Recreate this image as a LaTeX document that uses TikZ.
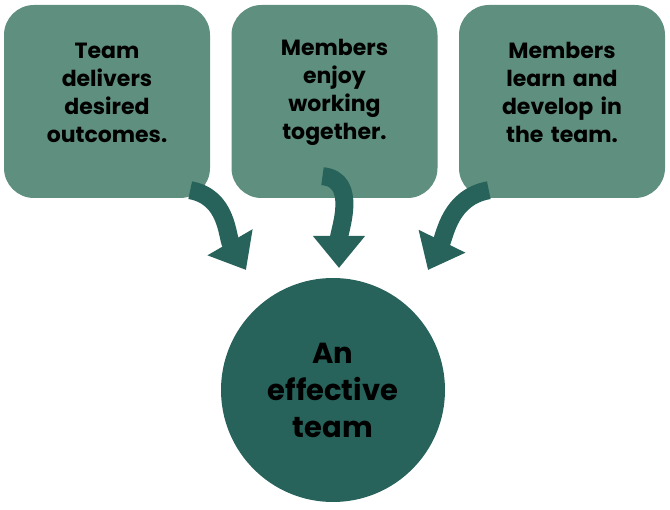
\documentclass[tikz,border=0pt]{standalone}
\usepackage{fontspec}
\setmainfont{Poppins}
\usepackage{tikz}
\usetikzlibrary{positioning, arrows.meta, shapes.geometric}
\definecolor{boxgreen}{HTML}{5F8F7E}
\definecolor{darkgreen}{HTML}{27635A}

\begin{document}
\begin{tikzpicture}[x=1pt, y=-1pt, node distance=227.5pt]
    \tikzstyle{greenbox} = [rectangle, fill=boxgreen, rounded corners=30pt, minimum width=206pt, minimum height=193pt, inner sep=0pt]
    \tikzstyle{boxtext} = [text width=190pt, align=center, font=\bfseries\fontsize{22}{28}\selectfont]
    \tikzstyle{teamcircle} = [circle, fill=darkgreen, minimum size=224pt, inner sep=0pt, text width=180pt, align=center, font=\bfseries\fontsize{29}{37}\selectfont]
    \tikzstyle{bigarrow} = [draw=darkgreen, line width=18pt, -{Triangle[width=50pt, length=32pt]}]
    \useasboundingbox (0,0) rectangle (670,510);

    \node [greenbox] (deliver) at (107,101.5) {};
    \node [greenbox, right of=deliver] (enjoy) {};
    \node [greenbox, right of=enjoy] (learn) {};

    \node [boxtext] at ([yshift=9pt]deliver.center) {Team\\delivers\\desired\\outcomes.};
    \node [boxtext] at ([yshift=9pt]enjoy.center) {Members\\enjoy\\working\\together.};
    \node [boxtext] at ([yshift=9pt]learn.center) {Members\\learn and\\develop in\\the team.};

    \node [teamcircle] (team) at (333,390) {An\\effective\\team};

    % arrow ends
    \coordinate (tipa) at (246,270);
    \coordinate (tipb) at (339,268);
    \coordinate (tipc) at (428,270);

    \draw [bigarrow] ([xshift=-20pt, yshift=8pt]deliver.south east) to[out=-10, in=120] (tipa);
    \draw [bigarrow] ([xshift=-12pt, yshift=22pt]enjoy.south) to[out=-5, in=90] (tipb);
    \draw [bigarrow] ([xshift=30pt, yshift=8pt]learn.south west) to[out=190, in=64] (tipc);
\end{tikzpicture}
\end{document}
